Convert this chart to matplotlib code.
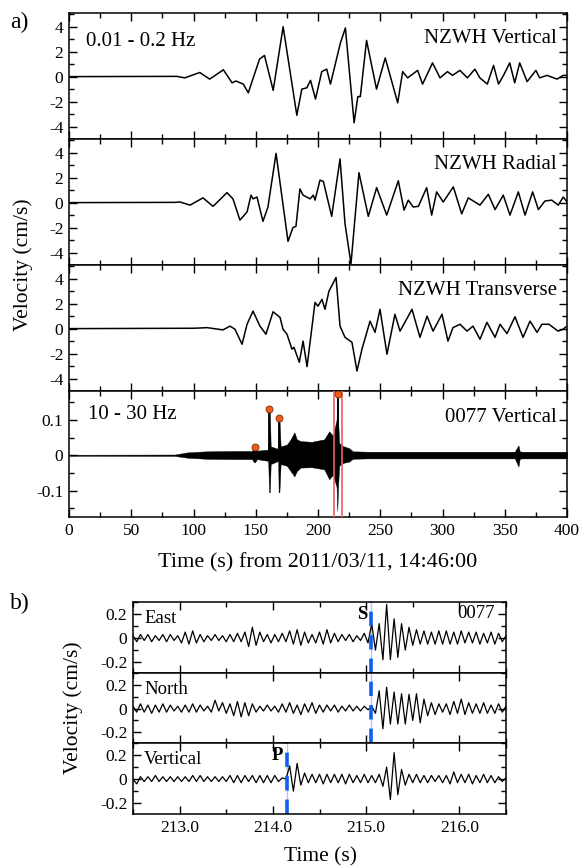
import numpy as np
import matplotlib
matplotlib.use("Agg")
import matplotlib.pyplot as plt
from matplotlib.ticker import MultipleLocator, FuncFormatter, FormatStrFormatter

plt.rcParams['font.family'] = ['Liberation Serif', 'DejaVu Serif']
plt.rcParams['axes.unicode_minus'] = False

# ---- panel a: long-period NZWH records (extrema) ----
vert_t = [0, 86.7, 93, 105, 113, 124, 131, 134, 140, 144, 153, 157, 164, 172, 183,
          187, 191, 194, 198, 203, 207, 210, 218, 222, 229, 232, 234, 239, 247, 254,
          264, 268, 272, 280, 284, 292, 298, 304, 308, 314, 320, 326, 330, 336, 341,
          345, 349, 354, 358, 362, 368, 375, 378, 384, 392, 397, 400]
vert_v = [0, 0.02, -0.1, 0.33, -0.2, 0.55, -0.5, -0.35, -0.6, -1.3, 1.4, 1.7, -1.1, 4.0, -3.1,
          -1.0, -0.9, -0.3, -1.8, 0.4, 0.6, -0.6, 2.7, 3.9, -3.7, -1.6, -1.6, 2.9, -1.0, 1.5,
          -2.1, 0.4, -0.1, 0.5, -0.6, 1.1, -0.1, 0.4, 0.1, 0.5, -0.1, 0.6, -0.1, -0.6, 0.9,
          -0.6, 0.1, 1.1, -0.5, 1.1, -0.4, 0.5, -0.1, 0.1, -0.2, 0.1, 0.1]

rad_t = [0, 85, 89.2, 97.2, 107.6, 115.7, 126.9, 131.7, 137.3, 143.0, 146.2, 147.8, 151.0,
         155.8, 159.8, 166.3, 175.9, 179.9, 182.3, 185.5, 188.0, 190.9, 193.6, 196.2, 197.6,
         201.6, 204.3, 211.0, 217.7, 221.7, 226.5, 232.9, 240.4, 247.1, 255.2, 264.5, 269.1,
         272.5, 276.5, 280.6, 287.3, 291.3, 295.3, 300.6, 308.7, 315.4, 320.7, 330.1, 336.8,
         342.2, 348.8, 354.2, 360.9, 366.3, 372.4, 377.0, 382.3, 387.7, 393.0, 397.0, 400]
rad_v = [0, 0.02, 0.05, -0.2, 0.38, -0.3, 0.8, 0.3, -1.4, -0.75, 0.6, 0.3, 0.45,
         -1.5, -0.35, 3.95, -3.1, -2.0, -1.9, 1.1, 0.6, 0.45, 0.3, 0.6, 0.2,
         1.8, 1.7, -1.1, 3.5, -1.7, -4.9, 2.4, -1.1, 1.2, -1.0, 1.75, -0.6,
         0.2, -0.35, -0.3, 1.2, -1.0, 0.86, 0.05, 1.26, -0.9, 0.38, -0.2, 0.67,
         -0.56, 0.6, -1.0, 0.86, -1.0, 0.86, -0.56, 0.13, 0.2, -0.2, 0.45, 0.05]

trans_t = [0, 100, 105.2, 110.8, 123.7, 129.3, 133.3, 139.0, 143.0, 147.8, 153.4, 158.2, 163.9,
           169.5, 171.9, 175.1, 179.1, 180.7, 185.0, 188.0, 191.2, 197.6, 200.0, 203.2, 205.6,
           208.8, 214.5, 217.7, 221.7, 227.3, 231.3, 235.3, 241.8, 245.8, 249.8, 255.4, 261.8,
           265.9, 275.5, 281.9, 287.6, 292.4, 299.6, 304.4, 308.4, 314.1, 319.7, 324.5, 330.1,
           335.7, 342.2, 346.2, 351.8, 358.2, 364.7, 370.3, 375.9, 379.9, 385.5, 392.8, 396.8, 400]
trans_v = [0, 0.03, 0.05, 0.08, -0.1, 0.2, -0.05, -1.25, 0.35, 1.4, 0.2, -0.45, 1.35,
           0.9, -0.05, -0.45, -1.65, -1.5, -2.7, -1.0, -3.05, 2.1, 1.8, 2.35, 1.55,
           3.0, 4.1, 0.2, -0.7, -1.1, -3.4, -1.65, 0.6, -0.3, 1.55, -2.05, 1.15,
           -0.2, 1.55, -0.7, 1.0, -0.2, 1.15, -1.0, 0.08, 0.35, -0.2, 0.2, -0.85,
           0.5, -0.7, 0.35, -0.4, 0.95, -0.7, 0.6, -0.3, 0.35, 0.35, -0.2, -0.05, 0.2]

# ---- panel a: 10-30 Hz record of station 0077, given as its envelope ----
hf_t = [0, 85, 95, 110, 130, 147, 148.6, 149.4, 151, 160, 160.7, 161.3, 162, 168, 168.4,
        169.0, 170, 175, 178, 181, 183, 186, 195, 205, 209, 212, 214.9, 215.5, 216.1, 217,
        220, 225, 228, 240, 300, 358, 361, 362, 364, 400]
hf_top = [0.0015, 0.002, 0.008, 0.011, 0.012, 0.012, 0.024, 0.024, 0.013, 0.016, 0.131, 0.131,
          0.025, 0.018, 0.105, 0.105, 0.025, 0.03, 0.045, 0.065, 0.045, 0.04, 0.038, 0.045, 0.068,
          0.055, 0.10, 0.173, 0.10, 0.035, 0.026, 0.02, 0.011, 0.01, 0.01, 0.01, 0.028,
          0.011, 0.01, 0.01]
hf_bot = [-0.0015, -0.002, -0.007, -0.01, -0.011, -0.011, -0.02, -0.02, -0.011, -0.016, -0.105,
          -0.105, -0.025, -0.016, -0.105, -0.105, -0.025, -0.03, -0.045, -0.06, -0.045, -0.035,
          -0.034, -0.04, -0.068, -0.055, -0.09, -0.157, -0.09, -0.03, -0.022, -0.018, -0.01,
          -0.009, -0.009, -0.009, -0.032, -0.01, -0.009, -0.009]
pick_t = [149, 161, 168.7, 216.3]
pick_v = [0.024, 0.131, 0.105, 0.173]
window = (212.8, 219.3)

# ---- panel b: station 0077, 212.5-216.5 s (successive extrema) ----
east_v = [0.02, -0.03, 0.03, -0.02, 0.03, -0.03, 0.02, -0.02, 0.03, -0.03, 0.03, -0.02, 0.02,
          -0.04, 0.05, -0.05, 0.06, -0.04, 0.03, -0.03, 0.02,
          -0.02, 0.03, -0.02, 0.02, -0.03, 0.03,
          -0.03, 0.04, -0.03, 0.05, -0.07, 0.09, -0.06, 0.05,
          -0.03, 0.03, -0.04, 0.03, -0.03, 0.04, -0.03, 0.06, -0.05, 0.07,
          -0.06, 0.05, -0.04, 0.03, -0.04, 0.05, -0.05, 0.07, -0.04,
          0.04, -0.03, 0.03, -0.02, 0.03, -0.03, 0.02, -0.02, 0.04, -0.04,
          0.12, -0.1, 0.12, -0.18, 0.28, -0.18, 0.16, -0.16, 0.12, -0.1, 0.09, -0.06,
          0.07, -0.05, 0.06, -0.05, 0.05, -0.05, 0.06, -0.05, 0.06, -0.05, 0.05, -0.05, 0.06,
          -0.04, 0.05, -0.04, 0.05, -0.05, 0.04, -0.04, 0.05, -0.05, 0.04, -0.03, 0.02]
north_v = [0.02, -0.03, 0.04, -0.03, 0.03, -0.04, 0.03, -0.03, 0.04, -0.03, 0.03, -0.02, 0.02,
           -0.03, 0.03, -0.03, 0.04, -0.03, 0.03, -0.02, 0.02,
           -0.03, 0.07, -0.02, 0.05, -0.04, 0.04,
           -0.06, 0.06, -0.07, 0.05, -0.06, 0.04, -0.03, 0.02,
           -0.02, 0.03, -0.02, 0.02, -0.03, 0.04, -0.03, 0.05, -0.04, 0.03,
           -0.05, 0.04, -0.03, 0.05, -0.04, 0.03, -0.03, 0.03, -0.02,
           0.03, -0.03, 0.02, -0.02, 0.03, -0.02, 0.02, -0.02, 0.02, -0.01,
           0.02, -0.04, 0.15, -0.17, 0.18, -0.13, 0.14, -0.13, 0.125, -0.13, 0.12, -0.1,
           0.125, -0.12, 0.08, -0.06, 0.05, -0.05, 0.04, -0.03, 0.04, -0.05, 0.06, -0.04, 0.08,
           -0.05, 0.05, -0.04, 0.04, -0.04, 0.05, -0.04, 0.03, -0.04, 0.04, -0.03, 0.02]
vertb_v = [0.0, -0.04, 0.02, -0.02, 0.02, -0.02, 0.03, -0.02, 0.02, -0.02, 0.02, -0.02, 0.02,
           -0.02, 0.02, -0.02, 0.03, -0.02, 0.03, -0.02, 0.02,
           -0.02, 0.02, -0.02, 0.02, -0.02, 0.03,
           -0.03, 0.03, -0.03, 0.03, -0.02, 0.03, -0.03, 0.03,
           -0.03, 0.03, -0.03, 0.03, -0.02, 0.01,
           0.0, 0.11, -0.1, 0.13,
           -0.05, 0.05, -0.03, 0.04, -0.03, 0.04, -0.04, 0.04, -0.03,
           0.04, -0.03, 0.04, -0.04, 0.04, -0.03, 0.03, -0.03, 0.04, -0.03, 0.03, -0.03, 0.04,
           -0.06, 0.1, -0.17, 0.22, -0.13, 0.08,
           -0.05, 0.04, -0.03, 0.04, -0.03, 0.03, -0.03, 0.03, -0.02, 0.03, -0.03, 0.03, -0.04,
           0.06, -0.03, 0.04, -0.03, 0.04, -0.04, 0.03, -0.03, 0.04, -0.03, 0.03, -0.03, 0.02,
           -0.02, 0.01]
b_start, b_end = 212.5, 216.5
p_time, s_time = 214.15, 215.05

W, H = 582, 867
fig = plt.figure(figsize=(W / 100, H / 100), dpi=100)


def box(l, r, top, bot):
    return [l / W, 1 - bot / H, (r - l) / W, (bot - top) / H]


def zero_fmt(v, pos):
    return '0' if abs(v) < 1e-9 else f'{v:g}'


def style(ax):
    ax.tick_params(which='both', direction='in', top=True, right=True, width=1,
                   labelsize=12.5, pad=4)
    ax.tick_params(which='major', length=6)
    ax.tick_params(which='minor', length=3.5)
    for s in ax.spines.values():
        s.set_linewidth(1.1)


# panel a
edges_a = [13, 139, 265, 391, 517]
axes_a = [fig.add_axes(box(69, 567, edges_a[i], edges_a[i + 1])) for i in range(4)]
traces = [(vert_t, vert_v, 'NZWH Vertical'),
          (rad_t, rad_v, 'NZWH Radial'),
          (trans_t, trans_v, 'NZWH Transverse')]
for ax, (t, v, name) in zip(axes_a[:3], traces):
    ax.plot(t, v, color='black', lw=1.1)
    ax.set_ylim(-5.0, 5.1)
    ax.yaxis.set_major_locator(MultipleLocator(2))
    ax.yaxis.set_minor_locator(MultipleLocator(1))
    ax.text(0.98, 0.80, name, transform=ax.transAxes, ha='right', va='center',
            fontsize=15)
axes_a[0].text(0.035, 0.77, '0.01 - 0.2 Hz', transform=axes_a[0].transAxes,
               ha='left', va='center', fontsize=15)

ax4 = axes_a[3]
ax4.fill_between(hf_t, hf_bot, hf_top, color='black', lw=0.3)
for x in window:
    ax4.axvline(x, color='#ee6060', lw=1.2, zorder=3)
ax4.vlines(pick_t, 0, pick_v, color='black', lw=1.3, zorder=4)
ax4.plot(pick_t, pick_v, 'o', ms=5, mfc='#f25c19', mec='#7a2a00', mew=0.6, zorder=5)
ax4.set_ylim(-0.175, 0.182)
ax4.yaxis.set_major_locator(MultipleLocator(0.1))
ax4.yaxis.set_minor_locator(MultipleLocator(0.05))
ax4.text(0.038, 0.81, '10 - 30 Hz', transform=ax4.transAxes, ha='left', va='center',
         fontsize=15)
ax4.text(0.98, 0.79, '0077 Vertical', transform=ax4.transAxes, ha='right', va='center',
         fontsize=15)

for ax in axes_a:
    ax.set_xlim(0, 400)
    ax.xaxis.set_major_locator(MultipleLocator(50))
    ax.xaxis.set_minor_locator(MultipleLocator(25))
    ax.yaxis.set_major_formatter(FuncFormatter(zero_fmt))
    style(ax)
    if ax is not ax4:
        ax.tick_params(labelbottom=False)

fig.text(23 / W, 1 - 265 / H, 'Velocity (cm/s)', rotation=90, ha='center', va='center',
         fontsize=15.5)
fig.text(318 / W, 1 - 563 / H, 'Time (s) from 2011/03/11, 14:46:00', ha='center',
         va='center', fontsize=16)
fig.text(10 / W, 1 - 22 / H, 'a)', ha='left', va='center', fontsize=17)

# panel b
edges_b = [602, 673, 743, 814]
axes_b = [fig.add_axes(box(133, 506, edges_b[i], edges_b[i + 1])) for i in range(3)]
for ax, v, name in zip(axes_b, [east_v, north_v, vertb_v], ['East', 'North', 'Vertical']):
    t = np.linspace(b_start, b_end, len(v))
    ax.plot(t, v, color='black', lw=0.9)
    ax.set_xlim(b_start, b_end)
    ax.set_ylim(-0.29, 0.30)
    ax.xaxis.set_major_locator(MultipleLocator(1))
    ax.xaxis.set_minor_locator(MultipleLocator(0.5))
    ax.xaxis.set_major_formatter(FormatStrFormatter('%.1f'))
    ax.yaxis.set_major_locator(MultipleLocator(0.2))
    ax.yaxis.set_minor_locator(MultipleLocator(0.1))
    ax.yaxis.set_major_formatter(FuncFormatter(zero_fmt))
    ax.text(0.03, 0.77, name, transform=ax.transAxes, ha='left', va='center', fontsize=13.5)
    style(ax)
    if ax is not axes_b[2]:
        ax.tick_params(labelbottom=False)

for ax in axes_b[:2]:
    ax.axvline(s_time, color='#a8c8f8', lw=1.0, zorder=1)
    ax.axvline(s_time, color='#1060f0', lw=2.6, dashes=(4, 2.5), zorder=2)
axes_b[2].axvline(p_time, color='#a8c8f8', lw=1.0, zorder=1)
axes_b[2].axvline(p_time, color='#1060f0', lw=2.6, dashes=(4, 2.5), zorder=2)
axes_b[0].text(s_time - 0.04, 0.2, 'S', ha='right', va='center', fontsize=13.5,
               fontweight='bold')
axes_b[2].text(p_time - 0.04, 0.2, 'P', ha='right', va='center', fontsize=13.5,
               fontweight='bold')
axes_b[0].text(0.97, 0.84, '0077', transform=axes_b[0].transAxes, ha='right',
               va='center', fontsize=13.5)

fig.text(73 / W, 1 - 708 / H, 'Velocity (cm/s)', rotation=90, ha='center', va='center',
         fontsize=15.5)
fig.text(320 / W, 1 - 857 / H, 'Time (s)', ha='center', va='center', fontsize=15.5)
fig.text(10 / W, 1 - 603 / H, 'b)', ha='left', va='center', fontsize=17)

fig.savefig('out.png', dpi=100)
